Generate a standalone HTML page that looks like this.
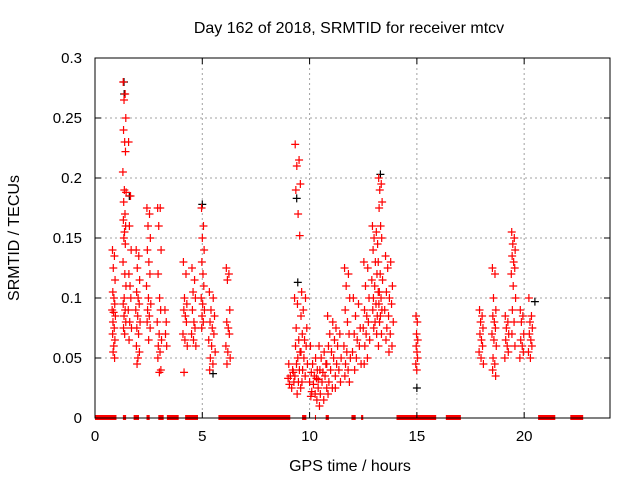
<!DOCTYPE html>
<html><head><meta charset="utf-8"><style>
body{margin:0;background:#fff}
svg{display:block;font-family:"Liberation Sans",sans-serif}
</style></head><body>
<svg id="chart" width="640" height="480" viewBox="0 0 640 480">
<rect width="640" height="480" fill="#fff"/>
<text x="349" y="33" font-size="16" text-anchor="middle">Day 162 of 2018, SRMTID for receiver mtcv</text>
<text transform="translate(19,238) rotate(-90)" font-size="16" text-anchor="middle">SRMTID / TECUs</text>
<text x="350" y="471" font-size="16" text-anchor="middle">GPS time / hours</text>
<g id="grid"></g><g id="zeros"></g><g id="black"></g><g id="red"></g><g id="axes"></g>
</svg>
<script>
const xTicks=[0,5,10,15,20];
const yTicks=[0,0.05,0.1,0.15,0.2,0.25,0.3];
const yTickLabels=["0","0.05","0.1","0.15","0.2","0.25","0.3"];
const zeroRanges=[[0,1.0],[1.3,1.45],[1.8,2.05],[2.4,2.55],[2.95,3.2],[3.35,3.9],[4.2,4.8],[5.75,9.1],[9.65,9.85],[10.25,10.3],[10.75,10.9],[11.95,12.15],[12.4,12.5],[14.05,15.9],[16.35,17.05],[20.65,21.45],[22.15,22.75]];
const redGroupHours=[[0.8,0.95],[1.3,1.45],[1.55,1.7],[1.9,2.1],[2.4,2.6],[2.9,3.1],[3.25,3.35],[4.1,4.3],[4.5,4.7],[4.95,5.1],[5.3,5.6],[6.1,6.3],[9.3,9.6],[9.0,9.3],[9.6,9.9],[10.0,10.4],[10.4,10.8],[10.8,11.2],[11.2,11.5],[11.6,11.9],[12.0,12.4],[12.5,12.8],[12.9,13.2],[13.2,13.4],[13.5,13.9],[14.95,15.05],[17.9,18.1],[18.5,18.7],[19.1,19.3],[19.4,19.6],[19.8,20.0],[20.2,20.4]];
const redGroupValues=[
[0.14,0.135,0.125,0.115,0.105,0.1,0.095,0.09,0.088,0.085,0.08,0.075,0.07,0.065,0.06,0.055,0.05],
[0.28,0.27,0.265,0.25,0.24,0.23,0.222,0.205,0.19,0.188,0.18,0.17,0.165,0.16,0.155,0.15,0.145,0.13,0.12,0.11,0.1,0.095,0.09,0.085,0.08,0.075,0.07],
[0.23,0.185,0.16,0.14,0.12,0.11,0.1,0.09,0.08,0.075,0.065],
[0.14,0.135,0.125,0.115,0.105,0.1,0.095,0.09,0.085,0.08,0.075,0.07,0.06,0.055,0.05,0.045],
[0.175,0.17,0.16,0.15,0.14,0.13,0.12,0.11,0.1,0.095,0.09,0.085,0.08,0.075,0.065],
[0.175,0.175,0.16,0.14,0.12,0.1,0.09,0.08,0.07,0.065,0.06,0.055,0.05,0.04,0.038],
[0.09,0.08,0.07,0.06],
[0.13,0.12,0.1,0.095,0.09,0.085,0.08,0.07,0.065,0.06,0.038],
[0.125,0.115,0.105,0.1,0.09,0.08,0.075,0.07,0.065,0.06],
[0.175,0.16,0.15,0.14,0.13,0.12,0.11,0.1,0.095,0.09,0.085,0.08,0.075],
[0.105,0.1,0.09,0.085,0.08,0.075,0.07,0.065,0.06,0.055,0.05,0.045,0.04],
[0.125,0.12,0.115,0.09,0.08,0.075,0.07,0.06,0.055,0.05,0.045],
[0.228,0.215,0.21,0.195,0.19,0.17,0.152,0.1,0.095,0.085,0.075,0.065,0.06,0.055,0.05,0.045,0.04,0.035,0.03,0.025,0.02],
[0.045,0.04,0.035,0.03,0.028,0.025,0.038,0.033],
[0.105,0.1,0.09,0.075,0.07,0.065,0.06,0.055,0.05,0.045,0.04,0.035,0.03],
[0.06,0.05,0.045,0.04,0.038,0.035,0.033,0.03,0.028,0.025,0.022,0.02,0.018,0.015],
[0.06,0.055,0.05,0.045,0.04,0.038,0.035,0.032,0.03,0.025,0.02,0.015,0.01],
[0.085,0.08,0.07,0.065,0.06,0.055,0.05,0.045,0.04,0.035,0.03,0.025,0.02],
[0.075,0.07,0.06,0.05,0.045,0.04,0.03,0.025],
[0.125,0.12,0.11,0.1,0.09,0.08,0.07,0.06,0.055,0.05,0.045,0.04,0.035,0.03],
[0.1,0.095,0.085,0.075,0.07,0.065,0.06,0.055,0.05,0.045,0.04],
[0.13,0.125,0.11,0.1,0.09,0.085,0.08,0.075,0.07,0.065,0.06,0.05,0.045],
[0.16,0.155,0.15,0.145,0.14,0.13,0.12,0.115,0.11,0.105,0.1,0.095,0.09,0.085,0.08,0.075,0.07],
[0.2,0.195,0.19,0.18,0.175,0.16,0.15,0.13,0.12,0.115,0.105,0.1,0.095,0.09,0.085,0.08,0.07,0.06],
[0.135,0.13,0.125,0.11,0.105,0.1,0.095,0.09,0.085,0.08,0.075,0.07,0.065,0.06,0.055],
[0.085,0.08,0.07,0.065,0.06,0.055,0.05,0.045,0.04],
[0.09,0.085,0.08,0.075,0.07,0.065,0.06,0.055,0.05,0.045],
[0.125,0.12,0.1,0.09,0.085,0.08,0.075,0.07,0.065,0.06,0.05,0.045,0.04,0.035],
[0.085,0.08,0.075,0.07,0.065,0.06,0.055,0.05],
[0.155,0.15,0.145,0.14,0.135,0.13,0.125,0.12,0.11,0.1,0.09,0.08,0.07,0.06],
[0.09,0.085,0.08,0.07,0.065,0.06,0.055,0.05],
[0.1,0.085,0.08,0.075,0.07,0.065,0.06,0.055,0.05]];
const blackHours=[1.35,1.36,1.6,5.0,9.4,9.45,13.3,15.0,20.5,5.5];
const blackValues=[0.28,0.27,0.185,0.178,0.183,0.113,0.203,0.025,0.097,0.037];

const L=95,R=610,T=58,B=418,XMAX=24,YMAX=0.3;
const sx=h=>L+h/XMAX*(R-L);
const sy=v=>B-v/YMAX*(B-T);
const NS='http://www.w3.org/2000/svg';
function mk(tag,attrs,parent){const e=document.createElementNS(NS,tag);for(const k in attrs)e.setAttribute(k,attrs[k]);document.getElementById(parent).appendChild(e);return e;}

xTicks.forEach(t=>{
 const g=mk('line',{x1:sx(t),x2:sx(t),y1:T,y2:B,stroke:'#a0a0a0','stroke-dasharray':'2,3'},'grid');
 
 
 const a=mk('path',{d:`M${sx(t)},${B}v-6M${sx(t)},${T}v6`,stroke:'#000'},'axes');
 
 
 const tx=mk('text',{x:sx(t),y:B+23,'font-size':15,'text-anchor':'middle'},'axes');
 tx.textContent=String(t);
 
 
});
yTicks.forEach((t,i)=>{
 const g=mk('line',{x1:L,x2:R,y1:sy(t),y2:sy(t),stroke:'#a0a0a0','stroke-dasharray':'2,3'},'grid');
 
 
 const a=mk('path',{d:`M${L},${sy(t)}h6M${R},${sy(t)}h-6`,stroke:'#000'},'axes');
 
 
 const tx=mk('text',{x:L-13,y:sy(t)+5,'font-size':15,'text-anchor':'end'},'axes');
 tx.textContent=yTickLabels[i];
 
 
});
const fr=mk('rect',{x:L,y:T,width:R-L,height:B-T,fill:'none',stroke:'#000'},'axes');



zeroRanges.forEach(r=>{
 const z=mk('rect',{x:sx(r[0]),y:B-3,width:sx(r[1])-sx(r[0]),height:5,fill:'#f00'},'zeros');
 
 
});
function plus(x,y,col,parent,name){
 const p=mk('path',{d:`M${x-4},${y}h8M${x},${y-4}v8`,stroke:col,'stroke-width':1.2,fill:'none'},parent);
 
 
}
blackHours.forEach((h,i)=>plus(sx(h),sy(blackValues[i]),'#000','black','black-point'));
const jit=[0.1,0.7,0.35,0.9,0.2,0.55,0.8,0.0,0.45,1.0,0.25,0.65,0.15,0.85,0.5,0.3,0.75,0.05,0.6,0.95,0.4];
redGroupValues.forEach((vals,gi)=>{
 const [a,b]=redGroupHours[gi];
 vals.forEach((v,i)=>plus(sx(a+(b-a)*jit[i%jit.length]),sy(v),'#f00','red','red-point'));
});
</script>
</body></html>
